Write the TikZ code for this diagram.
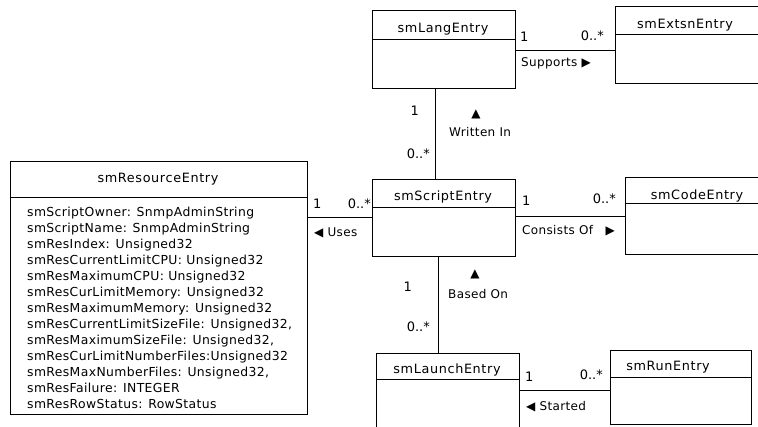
\documentclass[tikz,border=0pt]{standalone}
\usepackage{fontspec}
\setmainfont{DejaVu Sans}
\newfontfamily\ttlfont[LetterSpace=5]{DejaVu Sans}
\newfontfamily\attrfont[LetterSpace=3]{DejaVu Sans}
\usetikzlibrary{calc}
\begin{document}
\begin{tikzpicture}[x=1pt,y=-1pt,
  cls/.style={draw, line width=0.9pt, rectangle, inner sep=0pt, anchor=north west},
  ttl/.style={font=\ttlfont\fontsize{12.8}{15}\selectfont, inner sep=0pt, anchor=base},
  lbl/.style={font=\attrfont\fontsize{12}{14}\selectfont, inner sep=0pt},
  mult/.style={font=\fontsize{13}{15}\selectfont, inner sep=0pt},
  attr/.style={font=\attrfont\fontsize{12.4}{16}\selectfont, inner sep=0pt, align=left, anchor=north west},
  assoc/.style={draw, line width=0.9pt},
  divider/.style={draw, line width=0.9pt}]
\path[use as bounding box, clip] (0,0) rectangle (758,426);

% class boxes
\node[cls, minimum width=143pt, minimum height=78pt] (lang) at (372,10) {};
\node[cls, minimum width=160pt, minimum height=77pt] (extsn) at (615,6) {};
\node[cls, minimum width=143pt, minimum height=77pt] (script) at (372,179) {};
\node[cls, minimum width=160pt, minimum height=77pt] (code) at (625,177) {};
\node[cls, minimum width=297pt, minimum height=253pt] (res) at (10,161) {};
\node[cls, minimum width=143pt, minimum height=100pt] (launch) at (376,353) {};
\node[cls, minimum width=141pt, minimum height=74pt] (run) at (610,350) {};

% dividers
\draw[divider] ([yshift=-29pt]lang.north west) -- ([yshift=-29pt]lang.north east);
\draw[divider] ([yshift=-28pt]extsn.north west) -- ([yshift=-28pt]extsn.north east);
\draw[divider] ([yshift=-28pt]script.north west) -- ([yshift=-28pt]script.north east);
\draw[divider] ([yshift=-26pt]code.north west) -- ([yshift=-26pt]code.north east);
\draw[divider] ([yshift=-36pt]res.north west) -- ([yshift=-36pt]res.north east);
\draw[divider] ([yshift=-26pt]launch.north west) -- ([yshift=-26pt]launch.north east);
\draw[divider] ([yshift=-27pt]run.north west) -- ([yshift=-27pt]run.north east);

% titles
\node[ttl] (langT) at (443,32.5) {smLangEntry};
\node[ttl] (extsnT) at (685,28.3) {smExtsnEntry};
\node[ttl] (scriptT) at (443,200.5) {smScriptEntry};
\node[ttl] (codeT) at (697,199) {smCodeEntry};
\node[ttl] (launchT) at (447,373) {smLaunchEntry};
\node[ttl] (runT) at (668,370) {smRunEntry};
\node[ttl] (resT) at (158,182.5) {smResourceEntry};

% attributes
\node[attr] (resA) at (27,206.5) {%
smScriptOwner: SnmpAdminString\\
smScriptName: SnmpAdminString\\
smResIndex: Unsigned32\\
smResCurrentLimitCPU: Unsigned32\\
smResMaximumCPU: Unsigned32\\
smResCurLimitMemory: Unsigned32\\
smResMaximumMemory: Unsigned32\\
smResCurrentLimitSizeFile: Unsigned32,\\
smResMaximumSizeFile: Unsigned32,\\
smResCurLimitNumberFiles:Unsigned32\\
smResMaxNumberFiles: Unsigned32,\\
smResFailure: INTEGER\\
smResRowStatus: RowStatus};

% connectors
\draw[assoc] (lang.east |- 0,50) -- (extsn.west |- 0,50);
\draw[assoc] (lang.south -| 435,0) -- (script.north -| 435,0);
\draw[assoc] (script.east |- 0,216) -- (code.west |- 0,216);
\draw[assoc] (res.east |- 0,217) -- (script.west |- 0,217);
\draw[assoc] (script.south -| 438,0) -- (launch.north -| 438,0);
\draw[assoc] (launch.east |- 0,390) -- (run.west |- 0,390);

% Supports
\node[mult, anchor=base west] (m1) at (520,41.5) {1};
\node[mult, anchor=base east] (m2) at (604,40) {0..*};
\node[lbl, anchor=base west] (supp) at (521,66.5) {Supports ▶};
% Written In
\node[mult, anchor=base east] (m3) at (419,115) {1};
\node[mult, anchor=base east] (m4) at (430,158) {0..*};
\node[lbl] (tri1) at (476,114.5) {▲};
\node[lbl, anchor=base west] (wrt) at (449,136.5) {Written In};
% Uses
\node[mult, anchor=base west] (m5) at (313,208.3) {1};
\node[mult, anchor=base east] (m6) at (371,208) {0..*};
\node[lbl, anchor=base west] (uses) at (314,236.5) {◀ Uses};
% Consists Of
\node[mult, anchor=base west] (m7) at (522,205) {1};
\node[mult, anchor=base east] (m8) at (616,203) {0..*};
\node[lbl, anchor=base west] (cons) at (522,234) {Consists Of\ \ \ ▶};
% Based On
\node[mult, anchor=base east] (m9) at (412,291.5) {1};
\node[mult, anchor=base east] (m10) at (430,331.5) {0..*};
\node[lbl] (tri2) at (475,274) {▲};
\node[lbl, anchor=base west] (based) at (448,298) {Based On};
% Started
\node[mult, anchor=base west] (m11) at (525,381.5) {1};
\node[mult, anchor=base east] (m12) at (603,379) {0..*};
\node[lbl, anchor=base west] (start) at (526,410) {◀ Started};
\end{tikzpicture}
\end{document}
